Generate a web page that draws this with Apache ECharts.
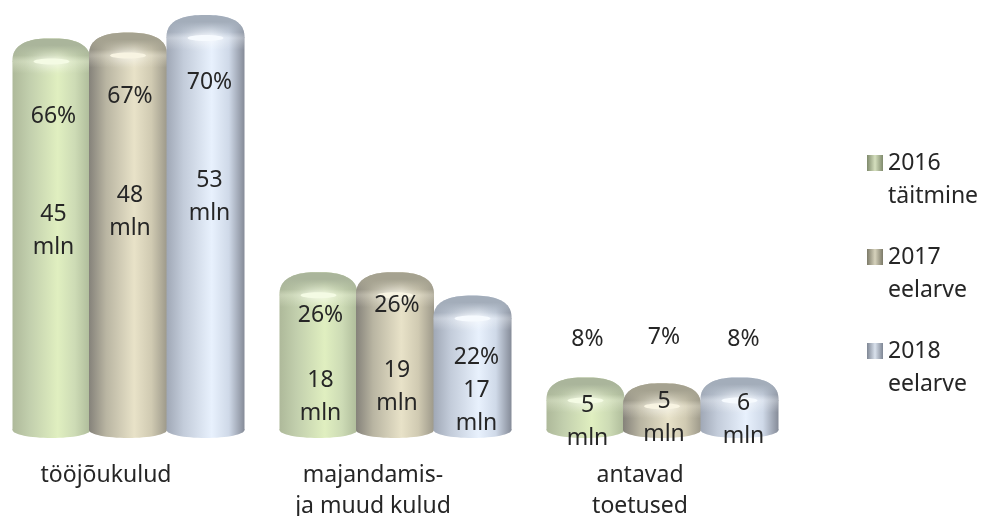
<!DOCTYPE html>
<html>
<head>
<meta charset="utf-8">
<style>html,body{margin:0;padding:0;background:#fff}#c{width:981px;height:516px}</style>
<script src="https://cdn.jsdelivr.net/npm/echarts@6/dist/echarts.min.js"></script>
</head>
<body>
<div id="c"></div>
<script>
var categories = ['tööjõukulud', 'majandamis-\nja muud kulud', 'antavad\ntoetused'];
var seriesNames = ['2016\ntäitmine', '2017\neelarve', '2018\neelarve'];
var share2016 = [66, 26, 8];
var share2017 = [67, 26, 7];
var share2018 = [70, 22, 8];
var mln2016 = [45, 18, 5];
var mln2017 = [48, 19, 5];
var mln2018 = [53, 17, 6];

var shares = [share2016, share2017, share2018];
var mlns = [mln2016, mln2017, mln2018];

// label placement relative to each cylinder's top edge (px), hand-placed in the original
var pctDy = [[78, 43, -38], [64, 33, -46], [67, 62, -38]];
var mlnDy = [[193, 125, 45], [179, 115, 35], [182, 111, 43]];
var labelDx = [2, 2, 4];

var looks = [
  { stops: ['#aeb99a', '#c2cfad', '#e0efc0', '#cddbb5', '#aebb9a'], dark: '#aab59b', glow: '#f4fbe4', flat: '#c5d2ac', a: '#d5dfbe', b: '#7f8a6c' },
  { stops: ['#85827a', '#b9b5a2', '#e8e2c8', '#d0cab2', '#9d998a'], dark: '#a5a290', glow: '#f8f4e2', flat: '#c9c4ab', a: '#d6d2bc', b: '#7c7a68' },
  { stops: ['#a0a8b6', '#c3ccda', '#e8f1fd', '#cfd9e8', '#858b98'], dark: '#a3adba', glow: '#f6fafe', flat: '#c6d1e0', a: '#d9e1ec', b: '#7e8694' }
];
var stopAt = [0, 0.22, 0.58, 0.8, 1];
var offsets = [-54.5, 22, 99.5];
var BAR_W = 78, R = BAR_W / 2, SHOULDER = 23, FOOT = 8, CAP_POWER = 2.5, FADE = 12;
var INK = '#262626', FONT = '"Noto Sans", sans-serif', SIZE = 23;
var LEGEND_ICON = 'path://M0,0H16V16H0Z M8,49L8,49';

function bodyFill(look) {
  return { type: 'linear', x: 0, y: 0, x2: 1, y2: 0,
    colorStops: look.stops.map(function (c, i) { return { offset: stopAt[i], color: c }; }) };
}

// rounded shoulder outline of the cylinder's top, closed along its lower edge
function capOutline(cx, mid) {
  var pts = [];
  for (var k = 0; k <= 48; k++) {
    var t = Math.PI * k / 48;
    var c = Math.cos(t), n = Math.sin(t);
    pts.push([
      cx - R * Math.sign(c) * Math.pow(Math.abs(c), 2 / CAP_POWER),
      mid - SHOULDER * Math.pow(n, 2 / CAP_POWER)
    ]);
  }
  return pts;
}

function makeRender(s) {
  var look = looks[s];
  return function (params, api) {
    var i = api.value(0);
    var p = api.coord([i, api.value(1)]);
    var base = api.coord([i, Y_MIN])[1];
    var cx = p[0] + offsets[s], top = p[1], mid = top + SHOULDER;
    var fill = bodyFill(look);
    var outline = capOutline(cx, mid);
    var lx = cx + labelDx[s];
    var children = [
      { type: 'ellipse', shape: { cx: cx, cy: base, rx: R, ry: FOOT }, style: { fill: fill } },
      { type: 'rect', shape: { x: cx - R, y: mid - 0.5, width: BAR_W, height: base - mid + 0.5 }, style: { fill: fill } },
      { type: 'polygon', shape: { points: outline }, style: { fill: fill } },
      { type: 'polygon', shape: { points: outline }, style: {
          fill: { type: 'linear', x: 0, y: 0, x2: 0, y2: 1, colorStops: [
            { offset: 0, color: look.dark }, { offset: 0.3, color: look.dark },
            { offset: 0.75, color: look.dark + '66' }, { offset: 1, color: look.glow + '55' } ] } } },
      { type: 'rect', shape: { x: cx - R, y: mid, width: BAR_W, height: FADE }, style: {
          fill: { type: 'linear', x: 0, y: 0, x2: 0, y2: 1, colorStops: [
            { offset: 0, color: look.glow + '55' }, { offset: 1, color: look.glow + '00' } ] } } },
      { type: 'ellipse', shape: { cx: cx, cy: mid, rx: 18, ry: 3 }, style: {
          fill: look.glow, shadowBlur: 12, shadowColor: '#ffffff' } },
      { type: 'text', z2: 10, style: { text: shares[s][i] + '%', x: lx, y: top + pctDy[s][i],
          align: 'center', verticalAlign: 'middle', fill: INK, font: SIZE + 'px ' + FONT } },
      { type: 'text', z2: 10, style: { text: mlns[s][i] + '\nmln', x: lx, y: top + mlnDy[s][i],
          align: 'center', verticalAlign: 'middle', fill: INK, font: SIZE + 'px ' + FONT, lineHeight: 33 } }
    ];
    return { type: 'group', children: children };
  };
}

var Y_MIN = -1, Y_MAX = 70;
var chart = echarts.init(document.getElementById('c'), null, { renderer: 'canvas' });
chart.setOption({
  animation: false,
  backgroundColor: '#ffffff',
  grid: { left: -27.5, width: 801, top: 15, height: 415, containLabel: false, outerBoundsMode: 'none' },
  xAxis: {
    type: 'category', data: categories,
    axisLine: { show: false }, axisTick: { show: false }, splitLine: { show: false },
    axisLabel: { interval: 0, margin: 30, color: INK, fontSize: SIZE, fontFamily: FONT, lineHeight: 31, verticalAlign: 'top' }
  },
  yAxis: { type: 'value', min: Y_MIN, max: Y_MAX, show: false },
  legend: {
    orient: 'vertical', left: 862, top: 141.5, itemWidth: 16, itemHeight: 49, itemGap: 28,
    selectedMode: false,
    textStyle: { color: INK, fontSize: SIZE, fontFamily: FONT, lineHeight: 33 },
    data: seriesNames.map(function (n, s) {
      return { name: n, icon: LEGEND_ICON, itemStyle: { color: {
        type: 'linear', x: 0, y: 0, x2: 1, y2: 0,
        colorStops: [{ offset: 0, color: looks[s].b }, { offset: 0.5, color: looks[s].a }, { offset: 1, color: looks[s].b }] } } };
    })
  },
  series: shares.map(function (vals, s) {
    return {
      type: 'custom', name: seriesNames[s], coordinateSystem: 'cartesian2d',
      itemStyle: { color: looks[s].flat }, clip: false, z: 2 + s,
      encode: { x: 0, y: 1 },
      data: vals.map(function (v, i) { return [i, v]; }),
      renderItem: makeRender(s)
    };
  })
});
</script>
</body>
</html>
